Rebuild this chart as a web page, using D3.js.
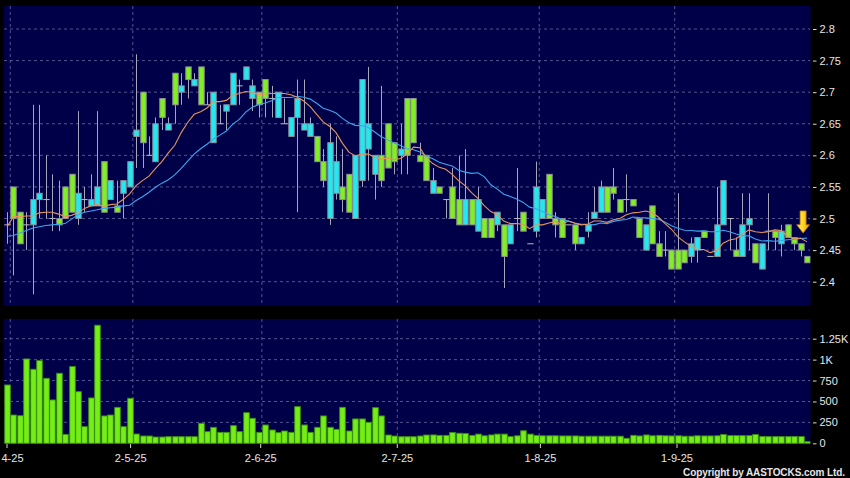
<!DOCTYPE html>
<html><head><meta charset="utf-8">
<script src="https://cdn.jsdelivr.net/npm/d3@7"></script>
<style>html,body{margin:0;padding:0;background:#000;} svg{display:block;}</style>
</head><body>
<svg id="chart" width="850" height="478"></svg>
<script>
// ---- data (daily OHLC, 1-4-25 .. 30-9-25) ----
const opens = [2.49,2.55,2.51,2.49,2.49,2.53,2.53,2.50,2.50,2.55,2.57,2.50,2.53,2.52,2.52,2.59,2.53,2.52,2.54,2.55,
2.63,2.70,2.60,2.59,2.69,2.64,2.73,2.70,2.74,2.71,2.74,2.68,2.62,2.65,2.67,2.68,2.71,2.72,2.69,2.70,
2.72,2.69,2.66,2.65,2.63,2.66,2.64,2.63,2.63,2.59,2.50,2.54,2.55,2.57,2.50,2.56,2.61,2.57,2.60,2.65,
2.62,2.60,2.69,2.69,2.60,2.60,2.54,2.55,2.53,2.55,2.53,2.49,2.53,2.48,2.50,2.50,2.49,2.49,2.46,2.50,
2.51,2.46,2.48,2.50,2.57,2.50,2.50,2.49,2.49,2.46,2.48,2.50,2.51,2.55,2.55,2.53,2.53,2.53,2.50,2.45,
2.52,2.46,2.45,2.45,2.45,2.45,2.44,2.45,2.48,2.44,2.44,2.49,2.50,2.45,2.44,2.49,2.46,2.42,2.48,2.48,
2.46,2.49,2.47,2.46,2.44];
const highs = [2.51,2.55,2.51,2.51,2.68,2.68,2.60,2.57,2.56,2.55,2.57,2.67,2.55,2.57,2.67,2.59,2.56,2.56,2.56,2.59,
2.76,2.70,2.63,2.66,2.69,2.66,2.73,2.73,2.74,2.73,2.74,2.70,2.70,2.68,2.68,2.73,2.72,2.74,2.72,2.70,
2.72,2.71,2.70,2.69,2.66,2.72,2.72,2.66,2.63,2.61,2.65,2.63,2.61,2.57,2.60,2.72,2.74,2.60,2.71,2.65,
2.62,2.65,2.69,2.69,2.62,2.60,2.58,2.55,2.53,2.58,2.60,2.61,2.53,2.55,2.50,2.50,2.51,2.49,2.49,2.58,
2.51,2.46,2.59,2.53,2.57,2.51,2.50,2.49,2.49,2.47,2.51,2.55,2.56,2.55,2.58,2.53,2.57,2.53,2.50,2.49,
2.52,2.48,2.48,2.45,2.54,2.45,2.47,2.47,2.48,2.44,2.55,2.56,2.50,2.47,2.54,2.54,2.46,2.46,2.54,2.48,
2.49,2.49,2.47,2.46,2.44];
const lows = [2.46,2.41,2.46,2.45,2.38,2.50,2.50,2.48,2.48,2.50,2.51,2.49,2.51,2.52,2.52,2.51,2.53,2.51,2.50,2.55,
2.58,2.58,2.60,2.59,2.64,2.64,2.65,2.68,2.69,2.71,2.68,2.68,2.62,2.65,2.64,2.68,2.68,2.72,2.67,2.66,
2.66,2.66,2.66,2.65,2.63,2.51,2.64,2.63,2.59,2.55,2.49,2.53,2.51,2.51,2.50,2.55,2.56,2.53,2.55,2.58,
2.57,2.57,2.57,2.62,2.59,2.56,2.54,2.54,2.50,2.50,2.49,2.49,2.49,2.48,2.47,2.47,2.48,2.39,2.46,2.48,
2.48,2.46,2.47,2.50,2.50,2.47,2.47,2.49,2.45,2.46,2.47,2.50,2.51,2.51,2.53,2.51,2.51,2.52,2.47,2.45,
2.46,2.44,2.44,2.42,2.42,2.43,2.43,2.43,2.47,2.44,2.44,2.49,2.45,2.44,2.44,2.45,2.43,2.42,2.45,2.45,
2.44,2.47,2.45,2.44,2.43];
const closes = [2.49,2.50,2.46,2.49,2.53,2.54,2.53,2.50,2.49,2.50,2.51,2.54,2.53,2.53,2.55,2.51,2.56,2.51,2.56,2.59,
2.64,2.62,2.60,2.65,2.66,2.65,2.68,2.71,2.72,2.72,2.68,2.68,2.70,2.65,2.68,2.73,2.71,2.74,2.71,2.68,
2.69,2.69,2.70,2.65,2.66,2.69,2.65,2.65,2.59,2.56,2.62,2.59,2.53,2.51,2.60,2.72,2.65,2.60,2.56,2.58,
2.59,2.61,2.60,2.62,2.59,2.56,2.56,2.54,2.53,2.50,2.49,2.53,2.49,2.53,2.47,2.47,2.51,2.44,2.49,2.50,
2.48,2.46,2.55,2.53,2.50,2.49,2.47,2.49,2.46,2.47,2.49,2.51,2.55,2.51,2.54,2.51,2.53,2.52,2.47,2.49,
2.46,2.44,2.45,2.42,2.42,2.43,2.46,2.47,2.47,2.44,2.49,2.56,2.50,2.44,2.49,2.50,2.43,2.46,2.48,2.47,
2.48,2.47,2.46,2.45,2.43];
const volumes = [697,338,330,1008,885,988,777,518,837,107,917,617,199,542,1411,327,338,430,199,538,
111,87,87,75,75,79,79,79,79,79,239,139,191,131,131,211,139,366,299,131,
219,159,127,147,131,438,219,131,191,327,191,167,430,147,291,291,251,426,327,99,
87,79,79,79,87,99,100,95,95,130,120,118,95,110,90,100,110,110,80,90,
150,110,95,90,90,90,88,88,88,85,85,85,85,85,85,85,60,95,88,100,
90,95,90,88,90,85,85,90,88,88,90,105,92,92,92,92,105,82,80,80,
80,80,82,80,20];
// moving-average values at the start of the window (earlier closes not shown)
const ma10Start = [2.487,2.503,2.503,2.504,2.504,2.509,2.510,2.510,2.507];
const ma20Start = [2.472,2.473,2.477,2.481,2.485,2.487,2.489,2.490,2.491,2.492,2.499,2.506,2.510,2.512,2.514,2.516,2.517,2.518,2.520];
const priceTicks = [2.4,2.45,2.5,2.55,2.6,2.65,2.7,2.75,2.8];
const volumeTicks = [0,250,500,750,1000,1250];
const volumeTickLabels = ["0","250","500","750","1K","1.25K"];
const dateTickIndex = [0,19,39,60,82,103];
const dateTickLabels = ["4-25","2-5-25","2-6-25","2-7-25","1-8-25","1-9-25"];
const signalIndex = 123.4, signalTip = 2.477, signalTop = 2.512;

// ---- derived ----
const n = closes.length;
function sma(p, start) {
  return d3.range(n).map(i => i < p - 1 ? start[i] : d3.mean(closes.slice(i - p + 1, i + 1)));
}
const ma10 = sma(10, ma10Start), ma20 = sma(20, ma20Start);

// ---- layout ----
const svg = d3.select("#chart");
const FONT = "'Liberation Sans', Arial, Helvetica, sans-serif";
const pP = {x0: 4, x1: 810.5, y0: 6, y1: 306};
const vP = {x0: 4, x1: 810.5, y0: 319, y1: 444};
const x = d3.scaleLinear().domain([-0.5, n - 0.5]).range([3.8, 810.2]);
const xLab = d3.scaleLinear().domain([0, 103]).range([6.5, 676.5]);
const y = d3.scaleLinear().domain([2.4, 2.8]).range([281.7, 29]);
const yv = d3.scaleLinear().domain([0, 1250]).range([443.3, 338.7]);

svg.append("rect").attr("width", 850).attr("height", 478).attr("fill", "#000");
const defs = svg.append("defs");
[["clipP", pP], ["clipV", vP]].forEach(([id, p]) => {
  defs.append("clipPath").attr("id", id).append("rect")
    .attr("x", p.x0).attr("y", p.y0).attr("width", p.x1 - p.x0).attr("height", p.y1 - p.y0);
});
const grad = defs.append("linearGradient").attr("id", "arrowGrad").attr("x1", "0").attr("x2", "1").attr("y1", "0").attr("y2", "0");
grad.append("stop").attr("offset", "0").attr("stop-color", "#fff27a");
grad.append("stop").attr("offset", "0.55").attr("stop-color", "#ffd21a");
grad.append("stop").attr("offset", "1").attr("stop-color", "#e89a00");

[pP, vP].forEach(p => svg.append("rect").attr("x", p.x0).attr("y", p.y0)
  .attr("width", p.x1 - p.x0).attr("height", p.y1 - p.y0).attr("fill", "#000048"));

const gridColor = "#6868a4";
const gP = svg.append("g").attr("clip-path", "url(#clipP)");
gP.selectAll("line.h").data(priceTicks).join("line")
  .attr("x1", pP.x0).attr("x2", pP.x1).attr("y1", d => y(d)).attr("y2", d => y(d))
  .attr("stroke", gridColor).attr("stroke-width", 0.8).attr("stroke-dasharray", "3,3");
const gV = svg.append("g").attr("clip-path", "url(#clipV)");
gV.selectAll("line.h").data(volumeTicks.slice(1)).join("line")
  .attr("x1", vP.x0).attr("x2", vP.x1).attr("y1", d => yv(d)).attr("y2", d => yv(d))
  .attr("stroke", gridColor).attr("stroke-width", 0.8).attr("stroke-dasharray", "3,3");
[[gP, pP], [gV, vP]].forEach(([g, p]) => {
  g.selectAll("line.v").data(dateTickIndex).join("line")
    .attr("x1", d => x(d + 0.5)).attr("x2", d => x(d + 0.5)).attr("y1", p.y0).attr("y2", p.y1)
    .attr("stroke", gridColor).attr("stroke-width", 0.8).attr("stroke-dasharray", "3,3");
});

// candles
const cw = 5.4;
const candles = gP.append("g");
d3.range(n).forEach(i => {
  const cx = Math.round(x(i)) + 0.5;
  const o = opens[i], c = closes[i], h = highs[i], l = lows[i];
  if (h !== l) {
    candles.append("line").attr("x1", cx).attr("x2", cx).attr("y1", y(h)).attr("y2", y(l))
      .attr("stroke", "#a6a6b8").attr("stroke-width", 1);
  }
  if (o === c) {
    candles.append("line").attr("x1", cx - cw / 2 - 0.5).attr("x2", cx + cw / 2 + 0.5)
      .attr("y1", y(o)).attr("y2", y(o)).attr("stroke", "#b8b8c0").attr("stroke-width", 1);
  } else {
    const top = y(Math.max(o, c)), bot = y(Math.min(o, c));
    candles.append("rect").attr("x", cx - cw / 2).attr("y", top)
      .attr("width", cw).attr("height", bot - top)
      .attr("fill", c > o ? "#22e8f2" : "#80f022")
      .attr("stroke", "#8e8e96").attr("stroke-width", 1);
  }
});

// moving averages
const line = arr => d3.line().x((d, i) => x(i)).y(d => y(d))(arr);
gP.append("path").attr("d", line(ma20)).attr("fill", "none").attr("stroke", "#3aa6ee").attr("stroke-width", 1.1);
gP.append("path").attr("d", line(ma10)).attr("fill", "none").attr("stroke", "#e8935a").attr("stroke-width", 1.1);

// signal arrow
(function () {
  const cx = x(signalIndex), yt = y(signalTip), y0 = y(signalTop);
  const headH = 8.3, sw = 3, hw = 6.4;
  const p = `M${cx - sw},${y0} L${cx + sw},${y0} L${cx + sw},${yt - headH} L${cx + hw},${yt - headH} L${cx},${yt} L${cx - hw},${yt - headH} L${cx - sw},${yt - headH} Z`;
  svg.append("path").attr("d", p).attr("fill", "url(#arrowGrad)").attr("stroke", "#b87a00").attr("stroke-width", 0.8);
})();

// volume bars
gV.append("g").selectAll("rect").data(volumes).join("rect")
  .attr("x", (d, i) => Math.round(x(i)) + 0.5 - 2.8).attr("y", d => yv(d))
  .attr("width", 5.6).attr("height", d => yv(0) - yv(d))
  .attr("fill", "#74ee16").attr("stroke", "#3a8e12").attr("stroke-width", 0.9);

// axes
const styleAxis = g => {
  g.select(".domain").remove();
  g.selectAll(".tick line").attr("stroke", "#d8d8d8");
  g.selectAll(".tick text").attr("fill", "#e6e6e6").attr("font-family", FONT).attr("font-size", "11px");
};
svg.append("g").attr("transform", "translate(813,0)")
  .call(d3.axisRight(y).tickValues(priceTicks).tickFormat(d => String(d)).tickSize(3.5).tickPadding(3))
  .call(styleAxis);
svg.append("g").attr("transform", "translate(813,0)")
  .call(d3.axisRight(yv).tickValues(volumeTicks).tickFormat((d, i) => volumeTickLabels[i]).tickSize(3.5).tickPadding(3))
  .call(styleAxis);
const xAxisG = svg.append("g").attr("transform", `translate(0,${vP.y1})`)
  .call(d3.axisBottom(xLab).tickValues(dateTickIndex).tickFormat((d, i) => dateTickLabels[i]).tickSize(4).tickPadding(6))
  .call(styleAxis);
// keep edge label fully inside the picture (starts at the left border, as in the source)
xAxisG.selectAll(".tick").each(function (d) {
  const t = d3.select(this).select("text");
  const bb = this.getBBox();
  const tx = xLab(d);
  if (tx + bb.x < 1) t.attr("text-anchor", "start").attr("x", 1 - tx);
});

svg.append("text").attr("x", 845).attr("y", 475.5).attr("text-anchor", "end")
  .attr("font-family", FONT).attr("font-size", "10px").attr("font-weight", "bold")
  .attr("fill", "#e6e6e6").attr("textLength", 162).attr("lengthAdjust", "spacing")
  .text("Copyright by AASTOCKS.com Ltd.");
</script>
</body></html>
